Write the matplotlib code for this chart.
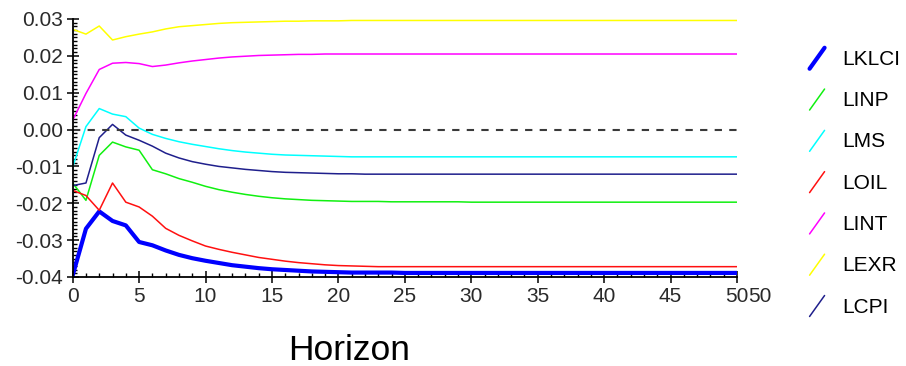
import matplotlib
matplotlib.use("Agg")
from matplotlib import pyplot as plt
from matplotlib.legend_handler import HandlerLine2D
from matplotlib.lines import Line2D
import matplotlib.ticker as mtick
import numpy as np

plt.rcParams['font.family'] = ['Liberation Sans', 'DejaVu Sans']
plt.rcParams['axes.unicode_minus'] = False

# impulse responses, horizon 0..50
horizon = np.arange(51)

lklci = [-0.0396, -0.0269, -0.0222, -0.0248, -0.0260, -0.0305, -0.0314, -0.0328, -0.0340, -0.0349,
         -0.0356, -0.0362, -0.0368, -0.0372, -0.0376, -0.0379, -0.0381, -0.0383, -0.0385, -0.0386,
         -0.0387, -0.0388, -0.0388, -0.0388, -0.0388, -0.0389, -0.0389, -0.0389, -0.0389, -0.0389,
         -0.0389, -0.0389, -0.0389, -0.0389, -0.0389, -0.0389, -0.0389, -0.0389, -0.0389, -0.0389,
         -0.0389, -0.0389, -0.0389, -0.0389, -0.0389, -0.0389, -0.0389, -0.0389, -0.0389, -0.0389,
         -0.0389]
linp = [-0.0145, -0.0192, -0.0070, -0.0034, -0.0047, -0.0056, -0.0109, -0.0120, -0.0133, -0.0143,
        -0.0154, -0.0163, -0.0170, -0.0176, -0.0181, -0.0185, -0.0188, -0.0190, -0.0192, -0.0193,
        -0.0194, -0.0195, -0.0195, -0.0195, -0.0196, -0.0196, -0.0196, -0.0196, -0.0196, -0.0196,
        -0.0197, -0.0197, -0.0197, -0.0197, -0.0197, -0.0197, -0.0197, -0.0197, -0.0197, -0.0197,
        -0.0197, -0.0197, -0.0197, -0.0197, -0.0197, -0.0197, -0.0197, -0.0197, -0.0197, -0.0197,
        -0.0197]
lms = [-0.0102, 0.0008, 0.0057, 0.0042, 0.0035, 0.0004, -0.0013, -0.0024, -0.0033, -0.0040,
       -0.0046, -0.0052, -0.0057, -0.0061, -0.0064, -0.0067, -0.0069, -0.0070, -0.0071, -0.0072,
       -0.0073, -0.0074, -0.0074, -0.0074, -0.0074, -0.0074, -0.0074, -0.0074, -0.0074, -0.0074,
       -0.0074, -0.0074, -0.0074, -0.0074, -0.0074, -0.0074, -0.0074, -0.0074, -0.0074, -0.0074,
       -0.0074, -0.0074, -0.0074, -0.0074, -0.0074, -0.0074, -0.0074, -0.0074, -0.0074, -0.0074,
       -0.0074]
loil = [-0.0165, -0.0179, -0.0219, -0.0145, -0.0197, -0.0210, -0.0235, -0.0268, -0.0287, -0.0302,
        -0.0316, -0.0325, -0.0333, -0.0340, -0.0347, -0.0352, -0.0357, -0.0361, -0.0364, -0.0367,
        -0.0369, -0.0370, -0.0371, -0.0372, -0.0372, -0.0372, -0.0372, -0.0372, -0.0372, -0.0372,
        -0.0372, -0.0372, -0.0372, -0.0372, -0.0372, -0.0372, -0.0372, -0.0372, -0.0372, -0.0372,
        -0.0372, -0.0372, -0.0372, -0.0372, -0.0372, -0.0372, -0.0372, -0.0372, -0.0372, -0.0372,
        -0.0372]
lint = [0.0025, 0.0098, 0.0163, 0.0180, 0.0182, 0.0179, 0.0171, 0.0175, 0.0181, 0.0186,
        0.0190, 0.0194, 0.0197, 0.0199, 0.0201, 0.0202, 0.0203, 0.0204, 0.0204, 0.0205,
        0.0205, 0.0205, 0.0205, 0.0205, 0.0205, 0.0205, 0.0205, 0.0205, 0.0205, 0.0205,
        0.0205, 0.0205, 0.0205, 0.0205, 0.0205, 0.0205, 0.0205, 0.0205, 0.0205, 0.0205,
        0.0205, 0.0205, 0.0205, 0.0205, 0.0205, 0.0205, 0.0205, 0.0205, 0.0205, 0.0205,
        0.0205]
lexr = [0.0272, 0.0259, 0.0281, 0.0243, 0.0252, 0.0259, 0.0265, 0.0273, 0.0279, 0.0282,
        0.0285, 0.0288, 0.0290, 0.0291, 0.0292, 0.0293, 0.0294, 0.0294, 0.0295, 0.0295,
        0.0295, 0.0296, 0.0296, 0.0296, 0.0296, 0.0296, 0.0296, 0.0296, 0.0296, 0.0296,
        0.0296, 0.0296, 0.0296, 0.0296, 0.0296, 0.0296, 0.0296, 0.0296, 0.0296, 0.0296,
        0.0296, 0.0296, 0.0296, 0.0296, 0.0296, 0.0296, 0.0296, 0.0296, 0.0296, 0.0296,
        0.0296]
lcpi = [-0.0152, -0.0145, -0.0022, 0.0014, -0.0015, -0.0029, -0.0045, -0.0064, -0.0077, -0.0087,
        -0.0094, -0.0100, -0.0104, -0.0108, -0.0111, -0.0114, -0.0116, -0.0117, -0.0118, -0.0119,
        -0.0120, -0.0120, -0.0121, -0.0121, -0.0121, -0.0121, -0.0121, -0.0121, -0.0121, -0.0121,
        -0.0121, -0.0121, -0.0121, -0.0121, -0.0121, -0.0121, -0.0121, -0.0121, -0.0121, -0.0121,
        -0.0121, -0.0121, -0.0121, -0.0121, -0.0121, -0.0121, -0.0121, -0.0121, -0.0121, -0.0121,
        -0.0121]

names = ["LKLCI", "LINP", "LMS", "LOIL", "LINT", "LEXR", "LCPI"]
series = [lklci, linp, lms, loil, lint, lexr, lcpi]
colors = ["#0000FF", "#10F010", "#00FFFF", "#FF1010", "#FF00FF", "#FFFF00", "#1F1F8C"]
widths = [3.0, 1.1, 1.1, 1.1, 1.1, 1.1, 1.1]


class DiagonalHandler(HandlerLine2D):
    # short slanted stroke instead of a flat legend line
    def create_artists(self, legend, orig_handle, xdescent, ydescent,
                       width, height, fontsize, trans):
        x0 = -xdescent + 0.1 * width
        x1 = -xdescent + 0.9 * width
        y0 = -ydescent - 0.05 * height
        y1 = -ydescent + 1.0 * height
        line = Line2D([x0, x1], [y0, y1], color=orig_handle.get_color(),
                      lw=orig_handle.get_linewidth(), solid_capstyle='round')
        line.set_transform(trans)
        return [line]


fig = plt.figure(figsize=(9.06, 3.66), dpi=100)
ax = fig.add_axes([0.0802, 0.2432, 0.7333, 0.7049])

handles = []
for name, vals, c, w in zip(names, series, colors, widths):
    h, = ax.plot(horizon, vals, color=c, lw=w, label=name)
    handles.append(h)

ax.axhline(0, color='#3a3a3a', lw=1.5, linestyle=(0, (3.5, 3.5)))

ax.set_xlim(0, 50)
ax.set_ylim(-0.04, 0.03)
ax.xaxis.set_major_locator(mtick.MultipleLocator(5))
ax.xaxis.set_minor_locator(mtick.MultipleLocator(1))
ax.yaxis.set_major_locator(mtick.MultipleLocator(0.01))
ax.yaxis.set_minor_locator(mtick.MultipleLocator(0.001))
ax.yaxis.set_major_formatter(mtick.FormatStrFormatter('%.2f'))

for s in ['top', 'right']:
    ax.spines[s].set_visible(False)
for s in ['left', 'bottom']:
    ax.spines[s].set_linewidth(1.3)

ax.tick_params(which='major', direction='inout', length=8, width=1.1,
               labelsize=15, labelcolor='#2a2a2a', pad=3)
ax.tick_params(which='minor', direction='in', length=3, width=1.0)

# stray duplicate label next to the last tick
ax.annotate('50', xy=(50, 0), xycoords=('data', 'axes fraction'),
            xytext=(8, -7), textcoords='offset points',
            ha='left', va='top', fontsize=15, color='#2a2a2a')

ax.set_xlabel('Horizon', fontsize=25.5)
ax.xaxis.set_label_coords(0.416, -0.285)
ax.xaxis.label.set_va('center')

fig.legend(handles=handles, loc='upper left', bbox_to_anchor=(0.880, 0.898),
           frameon=False, fontsize=15, borderpad=0, handlelength=0.9,
           handleheight=1.1, handletextpad=0.75, labelspacing=0.97,
           handler_map={Line2D: DiagonalHandler()})

plt.savefig('out.png', dpi=100)
